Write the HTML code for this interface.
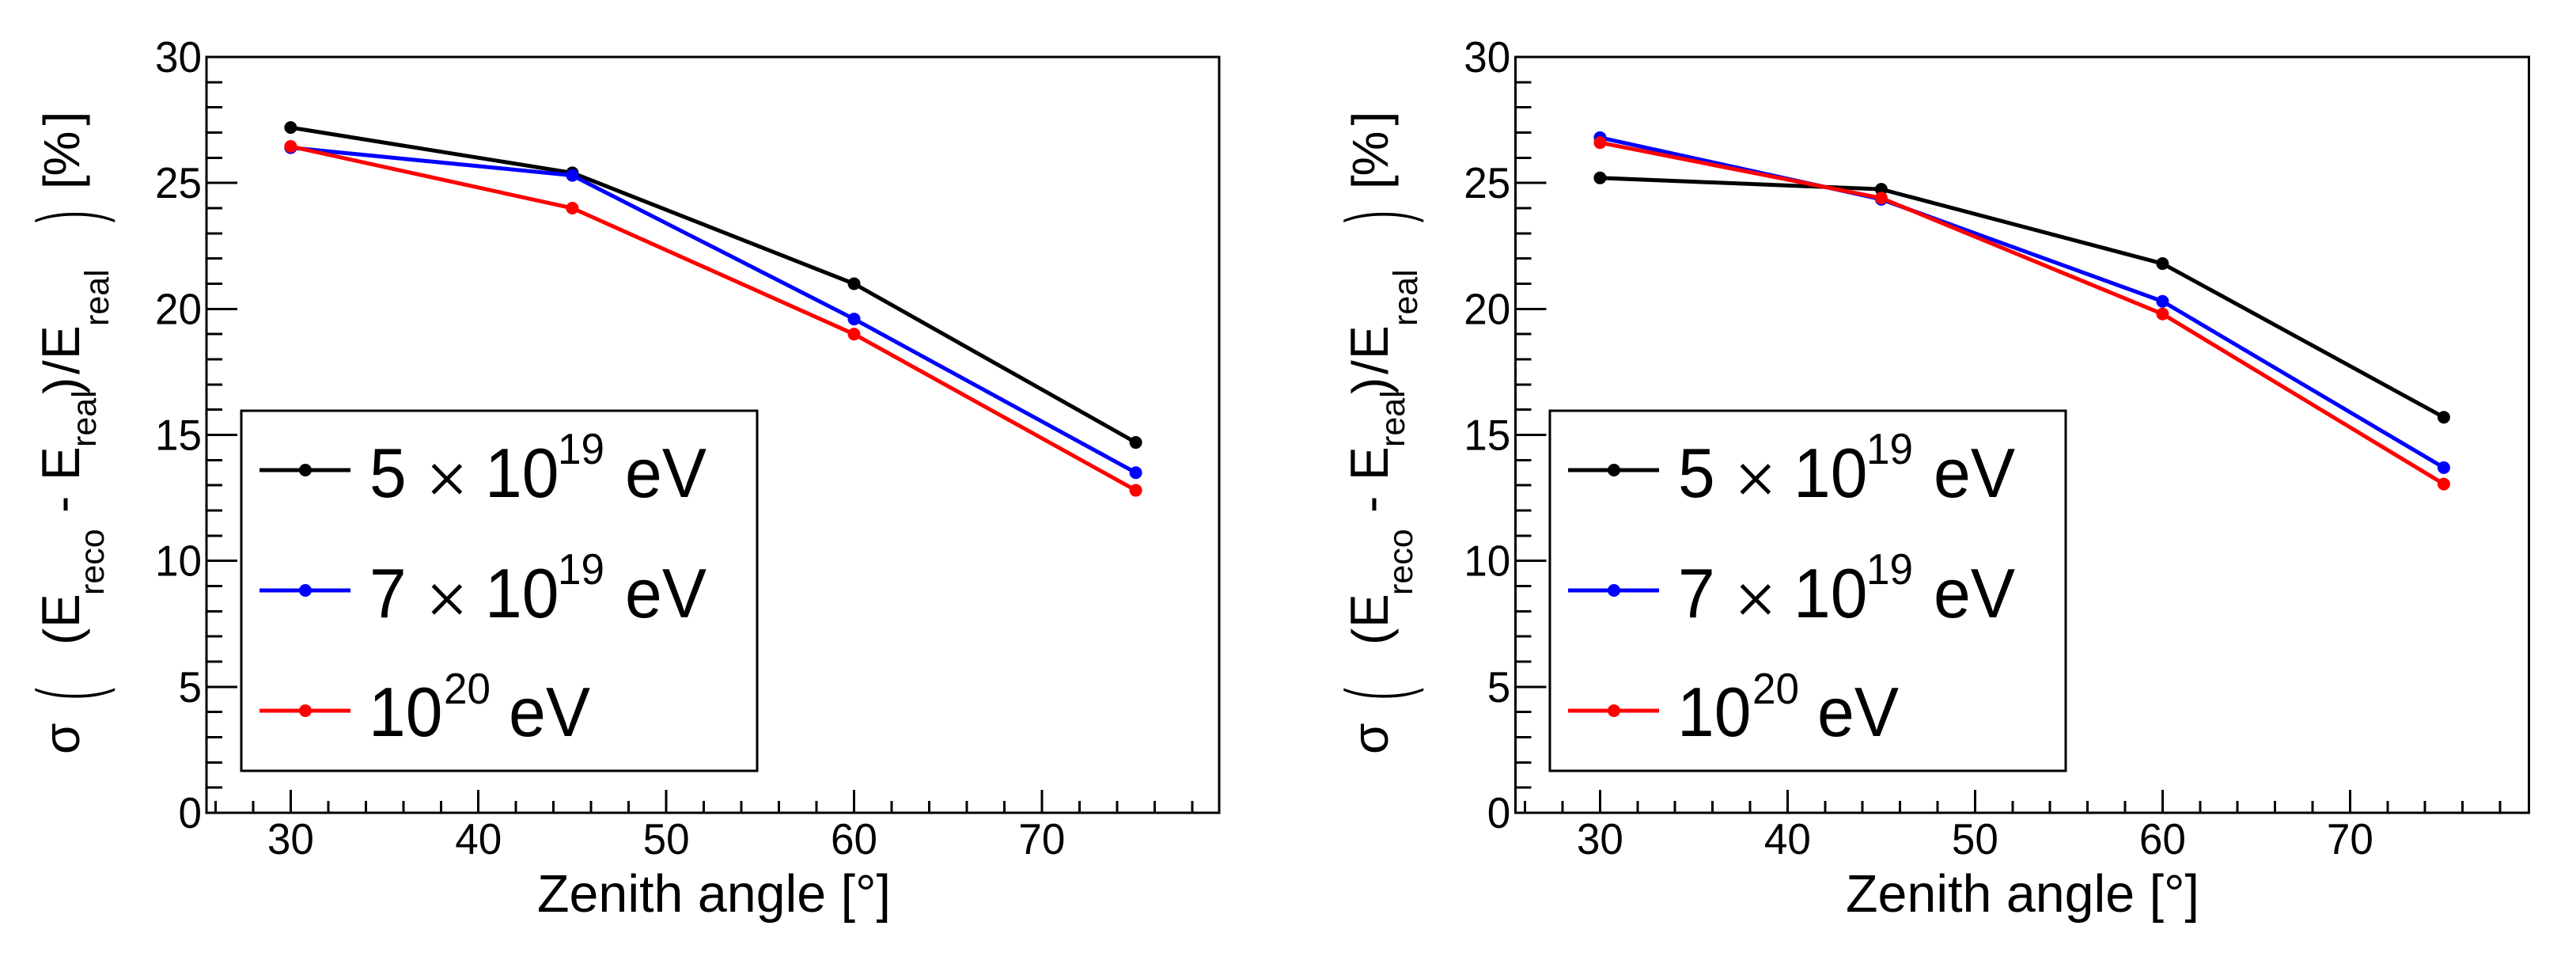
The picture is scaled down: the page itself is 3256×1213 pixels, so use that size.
<!DOCTYPE html>
<html lang="en">
<head>
<meta charset="utf-8">
<title>Energy resolution vs zenith angle</title>
<style>
html,body{margin:0;padding:0;background:#fff;}
svg{display:block;}
text{font-family:"Liberation Sans",Arial,sans-serif;fill:#000;}
.t67{font-size:67px;}
.t68{font-size:68px;}
.t64{font-size:64px;}
.t43{font-size:43px;}
.t88{font-size:88px;}
.t55{font-size:55px;}
.tm{font-size:92px;stroke:#fff;stroke-width:1.6px;}
.big{font-size:110px;stroke:#fff;stroke-width:1.5px;}
</style>
</head>
<body>
<svg id="chart" xmlns="http://www.w3.org/2000/svg" width="3256" height="1213" viewBox="0 0 3256 1213">
  <rect x="0" y="0" width="3256" height="1213" fill="#ffffff"/>

  <g id="panel-left">
    <g id="plot-left"></g>
    <text class="t67" x="679" y="1152" textLength="447" lengthAdjust="spacingAndGlyphs">Zenith angle [°]</text>
    <g transform="rotate(-90)">
      <text class="t64" x="-953" y="100">σ</text>
      <text class="big" transform="translate(-885,123) scale(.45,1)">(</text>
      <text class="t64" x="-815" y="100">(</text>
      <text class="t68" x="-793" y="100" textLength="42.7" lengthAdjust="spacingAndGlyphs">E</text>
      <text class="t43" x="-752" y="131">reco</text>
      <text class="t64" x="-648" y="100">-</text>
      <text class="t68" x="-607" y="100" textLength="42.7" lengthAdjust="spacingAndGlyphs">E</text>
      <text class="t43" x="-565" y="121">real</text>
      <text class="t64" x="-498" y="100">)</text>
      <text class="t64" x="-473" y="100">/</text>
      <text class="t68" x="-454" y="100" textLength="42.7" lengthAdjust="spacingAndGlyphs">E</text>
      <text class="t43" x="-412" y="137">real</text>
      <text class="big" transform="translate(-282,123) scale(.45,1)">)</text>
      <text class="t64" x="-239" y="100">[</text>
      <text class="t64" x="-222.5" y="100">%</text>
      <text class="t64" x="-158.5" y="100">]</text>
    </g>
    <g>
      <rect x="305" y="519" width="652" height="455" fill="#fff" stroke="#000" stroke-width="3" shape-rendering="crispEdges"/>
      <g>
        <line x1="328" x2="443" y1="594" y2="594" stroke="#000" stroke-width="5"/>
        <circle cx="386" cy="594" r="8" fill="#000"/>
        <text class="t88" x="467" y="628" textLength="46.7" lengthAdjust="spacingAndGlyphs">5</text>
        <text class="tm" x="538" y="636">×</text>
        <text class="t88" x="613" y="628" textLength="93.4" lengthAdjust="spacingAndGlyphs">10</text>
        <text class="t55" x="705" y="586" textLength="59" lengthAdjust="spacingAndGlyphs">19</text>
        <text class="t88" x="790" y="628" textLength="103" lengthAdjust="spacingAndGlyphs">eV</text>
      </g>
      <g>
        <line x1="328" x2="443" y1="746" y2="746" stroke="#0000ff" stroke-width="5"/>
        <circle cx="386" cy="746" r="8" fill="#0000ff"/>
        <text class="t88" x="467" y="780" textLength="46.7" lengthAdjust="spacingAndGlyphs">7</text>
        <text class="tm" x="538" y="788">×</text>
        <text class="t88" x="613" y="780" textLength="93.4" lengthAdjust="spacingAndGlyphs">10</text>
        <text class="t55" x="705" y="738" textLength="59" lengthAdjust="spacingAndGlyphs">19</text>
        <text class="t88" x="790" y="780" textLength="103" lengthAdjust="spacingAndGlyphs">eV</text>
      </g>
      <g>
        <line x1="328" x2="443" y1="898" y2="898" stroke="#ff0000" stroke-width="5"/>
        <circle cx="386" cy="898" r="8" fill="#ff0000"/>
        <text class="t88" x="466" y="930" textLength="93.4" lengthAdjust="spacingAndGlyphs">10</text>
        <text class="t55" x="561" y="889" textLength="59" lengthAdjust="spacingAndGlyphs">20</text>
        <text class="t88" x="643" y="930" textLength="103" lengthAdjust="spacingAndGlyphs">eV</text>
      </g>
    </g>
  </g>

  <g id="panel-right">
    <g id="plot-right"></g>
    <g transform="translate(1654,0)">
      <text class="t67" x="679" y="1152" textLength="447" lengthAdjust="spacingAndGlyphs">Zenith angle [°]</text>
      <g transform="rotate(-90)">
        <text class="t64" x="-953" y="100">σ</text>
        <text class="big" transform="translate(-885,123) scale(.45,1)">(</text>
        <text class="t64" x="-815" y="100">(</text>
        <text class="t68" x="-793" y="100" textLength="42.7" lengthAdjust="spacingAndGlyphs">E</text>
        <text class="t43" x="-752" y="131">reco</text>
        <text class="t64" x="-648" y="100">-</text>
        <text class="t68" x="-607" y="100" textLength="42.7" lengthAdjust="spacingAndGlyphs">E</text>
        <text class="t43" x="-565" y="121">real</text>
        <text class="t64" x="-498" y="100">)</text>
        <text class="t64" x="-473" y="100">/</text>
        <text class="t68" x="-454" y="100" textLength="42.7" lengthAdjust="spacingAndGlyphs">E</text>
        <text class="t43" x="-412" y="137">real</text>
        <text class="big" transform="translate(-282,123) scale(.45,1)">)</text>
        <text class="t64" x="-239" y="100">[</text>
        <text class="t64" x="-222.5" y="100">%</text>
        <text class="t64" x="-158.5" y="100">]</text>
      </g>
      <g>
        <rect x="305" y="519" width="652" height="455" fill="#fff" stroke="#000" stroke-width="3" shape-rendering="crispEdges"/>
        <g>
          <line x1="328" x2="443" y1="594" y2="594" stroke="#000" stroke-width="5"/>
          <circle cx="386" cy="594" r="8" fill="#000"/>
          <text class="t88" x="467" y="628" textLength="46.7" lengthAdjust="spacingAndGlyphs">5</text>
          <text class="tm" x="538" y="636">×</text>
          <text class="t88" x="613" y="628" textLength="93.4" lengthAdjust="spacingAndGlyphs">10</text>
          <text class="t55" x="705" y="586" textLength="59" lengthAdjust="spacingAndGlyphs">19</text>
          <text class="t88" x="790" y="628" textLength="103" lengthAdjust="spacingAndGlyphs">eV</text>
        </g>
        <g>
          <line x1="328" x2="443" y1="746" y2="746" stroke="#0000ff" stroke-width="5"/>
          <circle cx="386" cy="746" r="8" fill="#0000ff"/>
          <text class="t88" x="467" y="780" textLength="46.7" lengthAdjust="spacingAndGlyphs">7</text>
          <text class="tm" x="538" y="788">×</text>
          <text class="t88" x="613" y="780" textLength="93.4" lengthAdjust="spacingAndGlyphs">10</text>
          <text class="t55" x="705" y="738" textLength="59" lengthAdjust="spacingAndGlyphs">19</text>
          <text class="t88" x="790" y="780" textLength="103" lengthAdjust="spacingAndGlyphs">eV</text>
        </g>
        <g>
          <line x1="328" x2="443" y1="898" y2="898" stroke="#ff0000" stroke-width="5"/>
          <circle cx="386" cy="898" r="8" fill="#ff0000"/>
          <text class="t88" x="466" y="930" textLength="93.4" lengthAdjust="spacingAndGlyphs">10</text>
          <text class="t55" x="561" y="889" textLength="59" lengthAdjust="spacingAndGlyphs">20</text>
          <text class="t88" x="643" y="930" textLength="103" lengthAdjust="spacingAndGlyphs">eV</text>
        </g>
      </g>
    </g>
  </g>
</svg>

<script>
// Chart data
var zenithAngles = [30, 45, 60, 75];
var leftSeries5e19 = [27.2, 25.4, 21.0, 14.7];
var leftSeries7e19 = [26.4, 25.3, 19.6, 13.5];
var leftSeries1e20 = [26.45, 24.0, 19.0, 12.8];
var rightSeries5e19 = [25.2, 24.75, 21.8, 15.7];
var rightSeries7e19 = [26.8, 24.35, 20.3, 13.7];
var rightSeries1e20 = [26.6, 24.4, 19.8, 13.05];
var xMajorTicks = [30, 40, 50, 60, 70];
var xMinorTicks = [26, 28, 32, 34, 36, 38, 42, 44, 46, 48, 52, 54, 56, 58, 62, 64, 66, 68, 72, 74, 76, 78];
var yMajorTicks = [0, 5, 10, 15, 20, 25, 30];
var yMinorTicks = [1, 2, 3, 4, 6, 7, 8, 9, 11, 12, 13, 14, 16, 17, 18, 19, 21, 22, 23, 24, 26, 27, 28, 29];
var xRangeLeft = [25.52, 79.44];
var xRangeRight = [25.48, 79.54];
var yRange = [0, 30];

var SVG_NS = 'http://www.w3.org/2000/svg';

function el(parent, tag, attrs) {
  var node = document.createElementNS(SVG_NS, tag);
  for (var key in attrs) { node.setAttribute(key, attrs[key]); }
  parent.appendChild(node);
  return node;
}

function drawPanel(target, box, xRange, seriesList) {
  var xs = function (v) { return box.left + (v - xRange[0]) / (xRange[1] - xRange[0]) * (box.right - box.left); };
  var ys = function (v) { return box.bottom - (v - yRange[0]) / (yRange[1] - yRange[0]) * (box.bottom - box.top); };
  var digitWidth = 29.5;

  var frame = el(target, 'rect', { x: box.left, y: box.top, width: box.right - box.left, height: box.bottom - box.top, fill: 'none', stroke: '#000', 'stroke-width': 3, 'shape-rendering': 'crispEdges' });
  
  

  xMinorTicks.forEach(function (t) {
    var tick = el(target, 'line', { x1: xs(t), x2: xs(t), y1: box.bottom, y2: box.bottom - 15, stroke: '#000', 'stroke-width': 3, 'shape-rendering': 'crispEdges' });
    
    
  });
  xMajorTicks.forEach(function (t) {
    var tick = el(target, 'line', { x1: xs(t), x2: xs(t), y1: box.bottom, y2: box.bottom - 29, stroke: '#000', 'stroke-width': 3, 'shape-rendering': 'crispEdges' });
    
    
    var label = el(target, 'text', { x: xs(t), y: box.bottom + 52, 'text-anchor': 'middle', 'font-size': 55, textLength: String(t).length * digitWidth, lengthAdjust: 'spacingAndGlyphs' });
    label.textContent = String(t);
    
    
  });
  yMinorTicks.forEach(function (t) {
    var tick = el(target, 'line', { x1: box.left, x2: box.left + 20, y1: ys(t), y2: ys(t), stroke: '#000', 'stroke-width': 3, 'shape-rendering': 'crispEdges' });
    
    
  });
  yMajorTicks.forEach(function (t) {
    var tick = el(target, 'line', { x1: box.left, x2: box.left + 39, y1: ys(t), y2: ys(t), stroke: '#000', 'stroke-width': 3, 'shape-rendering': 'crispEdges' });
    
    
    var label = el(target, 'text', { x: box.left - 6, y: ys(t) + 19, 'text-anchor': 'end', 'font-size': 55, textLength: String(t).length * digitWidth, lengthAdjust: 'spacingAndGlyphs' });
    label.textContent = String(t);
    
    
  });

  seriesList.forEach(function (series) {
    var pts = zenithAngles.map(function (a, i) { return xs(a) + ',' + ys(series.values[i]); }).join(' ');
    var line = el(target, 'polyline', { points: pts, fill: 'none', stroke: series.color, 'stroke-width': 5, 'stroke-linejoin': 'round' });
    
    
    zenithAngles.forEach(function (a, i) {
      var dot = el(target, 'circle', { cx: xs(a), cy: ys(series.values[i]), r: 8, fill: series.color });
      
      
    });
  });
}

drawPanel(document.getElementById('plot-left'),
  { left: 261, right: 1541, top: 72, bottom: 1027 },
  xRangeLeft,
  [
    { key: '5e19', color: '#000000', values: leftSeries5e19 },
    { key: '7e19', color: '#0000ff', values: leftSeries7e19 },
    { key: '1e20', color: '#ff0000', values: leftSeries1e20 }
  ]);

drawPanel(document.getElementById('plot-right'),
  { left: 1915.3, right: 3196.5, top: 72, bottom: 1027 },
  xRangeRight,
  [
    { key: '5e19', color: '#000000', values: rightSeries5e19 },
    { key: '7e19', color: '#0000ff', values: rightSeries7e19 },
    { key: '1e20', color: '#ff0000', values: rightSeries1e20 }
  ]);
</script>
</body>
</html>
